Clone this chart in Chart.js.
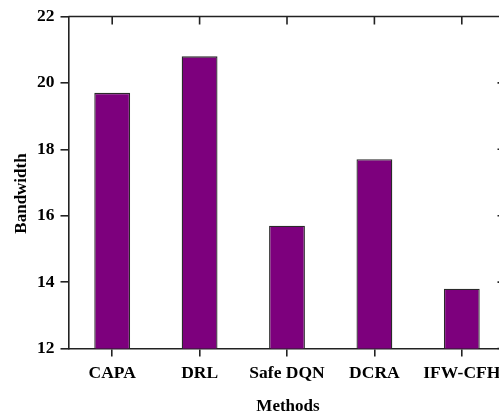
<!DOCTYPE html>
<html>
<head>
<meta charset="utf-8">
<script src="https://cdn.jsdelivr.net/npm/chart.js@4/dist/chart.umd.min.js"></script>
<style>
  html, body { margin: 0; padding: 0; overflow: hidden; background: #fff; }
  canvas { display: block; }
</style>
</head>
<body>
<canvas id="chart" width="530" height="412"></canvas>
<script>
// Bandwidth achieved by each method
const methods = ['CAPA', 'DRL', 'Safe DQN', 'DCRA', 'IFW-CFH'];
const bandwidth = [19.7, 20.8, 15.7, 17.7, 13.8];
const yTicks = [12, 14, 16, 18, 20, 22];
const xTitle = 'Methods';
const yTitle = 'Bandwidth';

const AXIS = '#222';
const FONT = '"Liberation Serif", "Times New Roman", serif';

// Closed frame: top and right edges with inward ticks, plus axis titles
const framePlugin = {
  id: 'frame',
  afterDraw(chart) {
    const { ctx, chartArea: a, scales: { x, y } } = chart;
    ctx.save();
    ctx.strokeStyle = AXIS;
    ctx.lineWidth = 1.6;
    ctx.beginPath();
    ctx.moveTo(a.left, a.top);
    ctx.lineTo(a.right, a.top);
    ctx.lineTo(a.right, a.bottom);
    x.ticks.forEach((t, i) => {
      const px = x.getPixelForTick(i);
      ctx.moveTo(px, a.top);
      ctx.lineTo(px, a.top + 8);
    });
    y.ticks.forEach((t, i) => {
      const py = y.getPixelForTick(i);
      ctx.moveTo(a.right, py);
      ctx.lineTo(a.right - 8, py);
    });
    ctx.stroke();

    ctx.fillStyle = '#000';
    ctx.font = 'bold 17px ' + FONT;
    ctx.textAlign = 'center';
    ctx.textBaseline = 'alphabetic';
    ctx.fillText(xTitle, (a.left + a.right) / 2 + 1, 411);
    ctx.translate(26, 193.5);
    ctx.rotate(-Math.PI / 2);
    ctx.fillText(yTitle, 0, 0);
    ctx.restore();
  }
};

new Chart(document.getElementById('chart'), {
  type: 'bar',
  data: {
    labels: methods,
    datasets: [{
      data: bandwidth,
      backgroundColor: '#7d007d',
      borderColor: '#2a2a2a',
      borderWidth: 1.3,
      borderSkipped: false,
      categoryPercentage: 1,
      barPercentage: 0.41
    }]
  },
  options: {
    responsive: false,
    animation: false,
    devicePixelRatio: 1,
    layout: { padding: { top: 15, right: 24.5, left: 0, bottom: 0 } },
    plugins: { legend: { display: false }, tooltip: { enabled: false } },
    scales: {
      x: {
        grid: { offset: false, drawOnChartArea: false, tickLength: 8, color: AXIS, lineWidth: 1.6 },
        border: { display: true, color: AXIS, width: 1.6 },
        ticks: { color: '#000', font: { family: FONT, size: 17.5, weight: 'bold' }, padding: 6, maxRotation: 0, autoSkip: false },
        afterFit(s) { s.height = 63.5; }
      },
      y: {
        min: yTicks[0],
        max: yTicks[yTicks.length - 1],
        afterBuildTicks(s) { s.ticks = yTicks.map(v => ({ value: v })); },
        grid: { drawOnChartArea: false, tickLength: 8, color: AXIS, lineWidth: 1.6 },
        border: { display: true, color: AXIS, width: 1.6 },
        ticks: { color: '#000', font: { family: FONT, size: 17.5, weight: 'bold' }, padding: 6 },
        afterFit(s) { s.width = 68.5; }
      }
    }
  },
  plugins: [framePlugin]
});
</script>
</body>
</html>
